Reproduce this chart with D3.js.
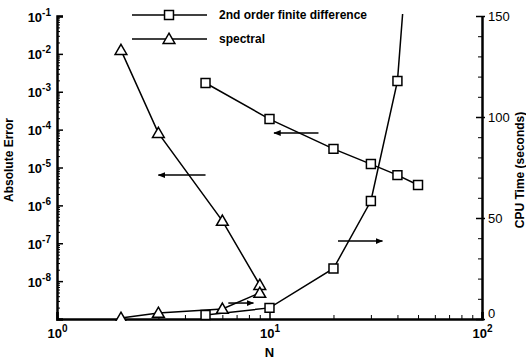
<!DOCTYPE html>
<html>
<head>
<meta charset="utf-8">
<script src="https://cdn.jsdelivr.net/npm/d3@7"></script>
<style>
    body { margin: 0; background: #fff; }
    text { font-family: "Liberation Sans", Arial, sans-serif; font-weight: bold; fill: #000; }
</style>
</head>
<body>
<div id="my_dataviz"></div>
<script>
// data
const fdN = [5, 10, 20, 30, 40, 50];
const fdError = [1.7e-3, 1.9e-4, 3.1e-5, 1.23e-5, 6.3e-6, 3.45e-6];
const fdCpu = [2, 5.5, 25, 58.4, 117.8, 250];

const spN = [2, 3, 6, 9];
const spError = [1.26e-2, 8.1e-5, 3.9e-7, 7.9e-9];
const spCpu = [0.5, 3, 5, 12.9];

const legendNames = ["2nd order finite difference", "spectral"];

// arrows telling which axis a curve belongs to: [N from, N to, value, axis]
const arrows = [
    [5, 3, 6.3e-6, "err"],
    [17, 10.5, 8.1e-5, "err"],
    [21, 34, 38.6, "cpu"],
    [6.4, 8.4, 7.9, "cpu"]
];

const xTicks = [1, 10, 100];
const errTicks = [-1, -2, -3, -4, -5, -6, -7, -8];
const cpuTicks = [0, 50, 100, 150];

// set the dimensions and margins of the graph
const margin = { top: 16, right: 44, bottom: 41, left: 57 },
    width = 526 - margin.left - margin.right,
    height = 360 - margin.top - margin.bottom;

const svg = d3.select("#my_dataviz")
    .append("svg")
    .attr("width", width + margin.left + margin.right)
    .attr("height", height + margin.top + margin.bottom)
    .append("g")
    .attr("transform", `translate(${margin.left}, ${margin.top})`);

const x = d3.scaleLog().domain([1, 100]).range([0, width]);
const yErr = d3.scaleLog().domain([1e-9, 1e-1]).range([height, 0]);
const yCpu = d3.scaleLinear().domain([0, 150]).range([height, 0]);

// minor tick values for the log axes
const xMinor = [];
[1, 10].forEach(d => { for (let k = 2; k <= 9; k++) xMinor.push(d * k); });
const errMinor = [];
for (let e = -9; e < -1; e++) { for (let k = 2; k <= 9; k++) errMinor.push(k * Math.pow(10, e)); }

// Bottom axis
svg.append("g")
    .attr("transform", `translate(0, ${height})`)
    .call(d3.axisBottom(x).tickValues(xMinor).tickSize(-4).tickFormat(""))
    .call(g => g.select(".domain").remove());
const xAxis = svg.append("g")
    .attr("transform", `translate(0, ${height})`)
    .call(d3.axisBottom(x).tickValues(xTicks).tickSize(-7).tickFormat(""));
xAxis.select(".domain").attr("stroke-width", 2.5);
xAxis.selectAll(".tick line").attr("stroke-width", 1.5);
xAxis.selectAll(".tick").append("text")
    .attr("y", 19)
    .attr("text-anchor", "middle")
    .style("font-size", "13px")
    .each(function(d) {
        const t = d3.select(this);
        t.append("tspan").text("10");
        t.append("tspan").attr("dy", -6).style("font-size", "10px").text(Math.round(Math.log10(d)));
    });

// Left axis
svg.append("g")
    .call(d3.axisLeft(yErr).tickValues(errMinor).tickSize(-3).tickFormat(""))
    .call(g => g.select(".domain").remove());
const yAxis = svg.append("g")
    .call(d3.axisLeft(yErr).tickValues(errTicks.map(e => Math.pow(10, e))).tickSize(-6).tickFormat(""));
yAxis.select(".domain").attr("stroke-width", 2.5);
yAxis.selectAll(".tick line").attr("stroke-width", 1.5);
yAxis.selectAll(".tick").append("text")
    .attr("x", -6)
    .attr("y", 5)
    .attr("text-anchor", "end")
    .style("font-size", "13px")
    .each(function(d) {
        const t = d3.select(this);
        t.append("tspan").text("10");
        t.append("tspan").attr("dy", -6).style("font-size", "10px").text(Math.round(Math.log10(d)));
    });

// Right axis
svg.append("g")
    .attr("transform", `translate(${width}, 0)`)
    .call(d3.axisRight(yCpu).ticks(15).tickSize(-4).tickFormat(""))
    .call(g => g.select(".domain").remove());
const y2Axis = svg.append("g")
    .attr("transform", `translate(${width}, 0)`)
    .call(d3.axisRight(yCpu).tickValues(cpuTicks).tickSizeInner(-6).tickSizeOuter(0).tickFormat(""));
y2Axis.select(".domain").attr("stroke-width", 2.5);
y2Axis.selectAll(".tick line").attr("stroke-width", 1.5).attr("x2", -6).attr("x1", 3);
y2Axis.selectAll(".tick").append("text")
    .attr("x", 6)
    .attr("y", d => d == 0 ? -2 : 4) // the 0 sits just above the 10^2 label
    .attr("text-anchor", "start")
    .style("font-size", "13px")
    .style("font-weight", "normal")
    .text(d => d);

svg.selectAll(".tick line").attr("stroke", "black");

// Axis labels
svg.append("text")
    .attr("text-anchor", "middle")
    .attr("x", x(10))
    .attr("y", height + 38)
    .style("font-size", "13px")
    .text("N");

svg.append("text")
    .attr("text-anchor", "middle")
    .attr("transform", "rotate(-90)")
    .attr("x", -144)
    .attr("y", -44)
    .style("font-size", "12px")
    .text("Absolute Error");

svg.append("text")
    .attr("text-anchor", "middle")
    .attr("transform", "rotate(-90)")
    .attr("x", -154)
    .attr("y", width + 42)
    .style("font-size", "12px")
    .text("CPU Time (seconds)");

// clip so the steep curve stops at the top of the frame
svg.append("defs").append("svg:clipPath")
    .attr("id", "clip")
    .append("svg:rect")
    .attr("x", 0)
    .attr("y", -2)
    .attr("width", width)
    .attr("height", height + 4);

svg.select("defs").append("marker")
    .attr("id", "head")
    .attr("viewBox", "0 0 10 10")
    .attr("refX", 9)
    .attr("refY", 5)
    .attr("markerWidth", 5)
    .attr("markerHeight", 5)
    .attr("orient", "auto")
    .append("path")
    .attr("d", "M0,1 L10,5 L0,9 Z")
    .attr("fill", "black");

const plot = svg.append("g").attr("clip-path", "url(#clip)");

function series(n, v, yScale) {
    return n.map((d, i) => ({ N: d, v: v[i], y: yScale }));
}

const curves = [
    { pts: series(fdN, fdError, yErr), shape: "square" },
    { pts: series(fdN, fdCpu, yCpu), shape: "square" },
    { pts: series(spN, spError, yErr), shape: "triangle" },
    { pts: series(spN, spCpu, yCpu), shape: "triangle" }
];

const line = d3.line()
    .x(d => x(d.N))
    .y(d => d.y(d.v));

curves.forEach(c => {
    plot.append("path")
        .datum(c.pts)
        .attr("d", line)
        .attr("fill", "none")
        .attr("stroke", "black")
        .attr("stroke-width", 1.5);
});

// arrows
svg.selectAll(".arrow")
    .data(arrows)
    .enter()
    .append("line")
    .attr("class", "arrow")
    .attr("x1", d => x(d[0]))
    .attr("x2", d => x(d[1]))
    .attr("y1", d => (d[3] == "err" ? yErr : yCpu)(d[2]))
    .attr("y2", d => (d[3] == "err" ? yErr : yCpu)(d[2]))
    .attr("stroke", "black")
    .attr("stroke-width", 1.5)
    .attr("marker-end", "url(#head)");

const sq = d3.symbol().type(d3.symbolSquare).size(80);
const tri = d3.symbol().type(d3.symbolTriangle).size(60);

curves.forEach(c => {
    plot.selectAll(null)
        .data(c.pts.filter(d => d.y.domain()[1] >= d.v))
        .enter()
        .append("path")
        .attr("d", c.shape == "square" ? sq : tri)
        .attr("transform", d => `translate(${x(d.N)}, ${d.y(d.v) + (c.shape == "triangle" ? 1 : 0)})`)
        .attr("fill", "white")
        .attr("stroke", "black")
        .attr("stroke-width", 1.5);
});

// legend
const legend = svg.append("g").attr("transform", `translate(${132 - margin.left}, 0)`);
legendNames.forEach((name, i) => {
    const g = legend.append("g").attr("transform", `translate(0, ${i * 24 - 1})`);
    g.append("line")
        .attr("x1", 0).attr("x2", 75)
        .attr("stroke", "black").attr("stroke-width", 1.5);
    g.append("path")
        .attr("d", i == 0 ? sq : tri)
        .attr("transform", `translate(37, ${i == 0 ? 0 : 1})`)
        .attr("fill", "white")
        .attr("stroke", "black")
        .attr("stroke-width", 1.5);
    g.append("text")
        .attr("x", 87)
        .attr("y", 4)
        .style("font-size", "12px")
        .text(name);
});
</script>
</body>
</html>
